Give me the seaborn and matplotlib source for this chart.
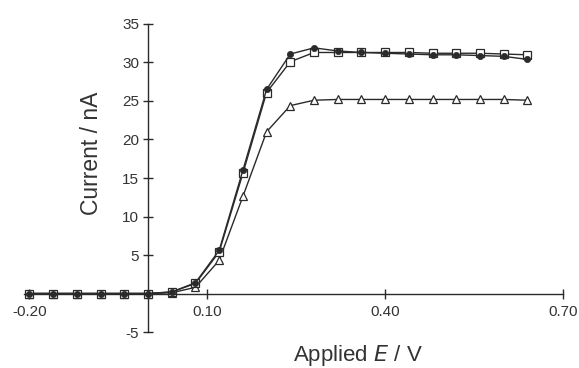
import matplotlib
matplotlib.use("Agg")
import matplotlib.pyplot as plt
import seaborn as sns
import pandas as pd

# applied potential (V)
potential = [-0.20, -0.16, -0.12, -0.08, -0.04, 0.00, 0.04, 0.08, 0.12, 0.16, 0.20,
             0.24, 0.28, 0.32, 0.36, 0.40, 0.44, 0.48, 0.52, 0.56, 0.60, 0.64]

# current (nA) for the three runs
current_circles = [0.0, 0.0, 0.0, 0.0, 0.0, 0.0, 0.2, 1.4, 5.6, 16.0, 26.5,
                   31.1, 31.9, 31.5, 31.3, 31.2, 31.1, 31.0, 31.0, 30.9, 30.8, 30.4]
current_squares = [0.0, 0.0, 0.0, 0.0, 0.0, 0.0, 0.2, 1.3, 5.4, 15.6, 26.1,
                   30.1, 31.3, 31.3, 31.3, 31.3, 31.3, 31.2, 31.2, 31.2, 31.1, 31.0]
current_triangles = [0.0, 0.0, 0.0, 0.0, 0.0, 0.0, 0.1, 0.8, 4.3, 12.6, 21.0,
                     24.4, 25.1, 25.2, 25.2, 25.2, 25.2, 25.2, 25.2, 25.2, 25.2, 25.1]

y_ticks = [-5, 5, 10, 15, 20, 25, 30, 35]
x_ticks = [-0.20, 0.10, 0.40, 0.70]
x_tick_labels = ["-0.20", "0.10", "0.40", "0.70"]

sns.set_style("white")
plt.rcParams["font.family"] = ["Liberation Sans", "DejaVu Sans"]

df = pd.DataFrame({
    "E": potential,
    "circles": current_circles,
    "squares": current_squares,
    "triangles": current_triangles,
})

ink = "#2a2a2a"
fig = plt.figure(figsize=(5.79, 3.68), dpi=100)
ax = fig.add_axes([0.0406, 0.0978, 0.9318, 0.837])

sns.lineplot(data=df, x="E", y="triangles", ax=ax, color=ink, lw=1.0,
             marker="^", markersize=5.8, markerfacecolor="white",
             markeredgecolor=ink, markeredgewidth=0.9)
sns.lineplot(data=df, x="E", y="squares", ax=ax, color=ink, lw=1.0,
             marker="s", markersize=5.5, markerfacecolor="white",
             markeredgecolor=ink, markeredgewidth=0.9)
sns.lineplot(data=df, x="E", y="circles", ax=ax, color=ink, lw=1.0,
             marker="o", markersize=4.5, markerfacecolor=ink,
             markeredgecolor=ink, markeredgewidth=0.5)

ax.set_xlim(-0.21, 0.70)
ax.set_ylim(-5, 35)
ax.spines["left"].set_position(("data", 0))
ax.spines["bottom"].set_position(("data", 0))
ax.spines["top"].set_visible(False)
ax.spines["right"].set_visible(False)
for s in ("left", "bottom"):
    ax.spines[s].set_color(ink)
    ax.spines[s].set_linewidth(1.0)

ax.set_yticks(y_ticks)
ax.set_yticklabels([str(t) for t in y_ticks])
ax.set_xticks(x_ticks)
ax.set_xticklabels(x_tick_labels)
ax.tick_params(axis="both", direction="inout", length=7, width=1.0,
               bottom=True, left=True,
               color=ink, labelcolor="#333333", labelsize=11)
ax.tick_params(axis="x", pad=5)
ax.tick_params(axis="y", pad=3)
ax.set_xlabel("")
ax.set_ylabel("")

fig.text(358 / 579, 1 - 355 / 368, r"Applied $\mathit{E}$ / V", ha="center", va="center",
         fontsize=16, color="#333333")
fig.text(92 / 579, 1 - 153 / 368, "Current / nA", ha="center", va="center",
         rotation=90, fontsize=16.5, color="#333333")

fig.savefig("out.png", dpi=100)
